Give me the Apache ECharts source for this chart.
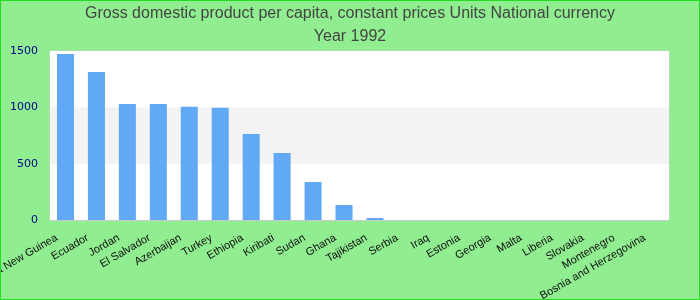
<!DOCTYPE html>
<html>
<head>
<meta charset="utf-8">
<script src="https://cdn.jsdelivr.net/npm/echarts@6/dist/echarts.min.js"></script>
<style>
    html, body { margin: 0; padding: 0; }
    #chart { width: 698px; height: 298px; border: 1px solid #22dd22; background: #90ee90; }
</style>
</head>
<body>
<div id="chart"></div>
<script>
// countries, year 1992
const countries = ['Papua New Guinea', 'Ecuador', 'Jordan', 'El Salvador', 'Azerbaijan', 'Turkey',
    'Ethiopia', 'Kiribati', 'Sudan', 'Ghana', 'Tajikistan', 'Serbia', 'Iraq', 'Estonia', 'Georgia',
    'Malta', 'Liberia', 'Slovakia', 'Montenegro', 'Bosnia and Herzegovina']
const gdp = [1474, 1314, 1030, 1030, 1005, 996, 764, 595, 337, 133, 18, 0, 0, 0, 0, 0, 0, 0, 0, 0]
const yTicks = [0, 500, 1000, 1500]

var myChart = echarts.init(document.getElementById('chart'))
let option = {
    title: {
        text: 'Gross domestic product per capita, constant prices Units National currency\nYear 1992',
        left: 'center',
        top: 1,
        padding: 0,
        textStyle: {
            fontFamily: 'Liberation Sans',
            fontSize: 16,
            fontWeight: 'normal',
            color: '#444',
            lineHeight: 23
        }
    },
    grid: {
        left: 49,
        right: 30,
        top: 50,
        bottom: 79,
        outerBoundsMode: 'none',
        containLabel: false,
        show: true,
        borderColor: '#ccc',
        borderWidth: 1,
        backgroundColor: '#fff'
    },
    xAxis: {
        type: 'category',
        data: countries,
        axisTick: { show: false },
        axisLine: { lineStyle: { color: '#ccc' } },
        axisLabel: {
            interval: 0,
            rotate: 30,
            fontFamily: 'Liberation Sans',
            fontSize: 11,
            color: '#111',
            margin: 12,
            padding: [0, 10, 0, 0]
        }
    },
    yAxis: {
        type: 'value',
        min: yTicks[0],
        max: yTicks[yTicks.length - 1],
        interval: 500,
        axisLine: { show: false },
        axisTick: { show: false },
        splitLine: { show: false },
        splitArea: { show: true, areaStyle: { color: ['#fff', '#f3f3f3'] } },
        axisLabel: {
            fontFamily: 'DejaVu Sans',
            fontSize: 11,
            color: '#00008b',
            margin: 12,
            formatter: v => String(v)
        }
    },
    series: [
        {
            type: 'bar',
            data: gdp,
            barWidth: '55%',
            itemStyle: { color: '#61a8f5' }
        }
    ]
}
myChart.setOption(option)
</script>
</body>
</html>
